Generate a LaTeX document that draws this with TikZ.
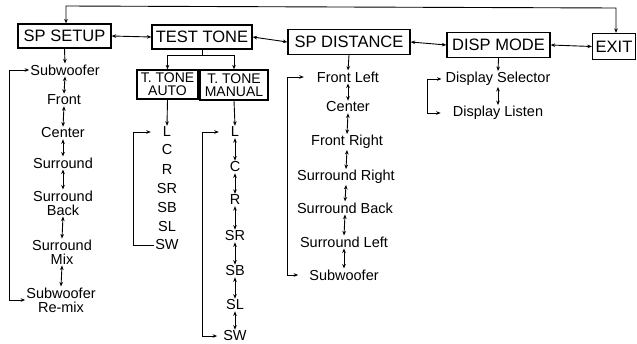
\documentclass[tikz,border=0pt]{standalone}
\usepackage{fontspec}
\setmainfont{Liberation Sans}
\usetikzlibrary{arrows.meta,calc}
\begin{document}
\begin{tikzpicture}[x=1pt,y=-1pt,
  >={Stealth[length=4.5pt,width=3.6pt]},
  conn/.style={line width=0.9pt},
  box/.style={draw, line width=1.3pt, inner sep=0pt, font=\fontsize{16.5}{18}\selectfont},
  sbox/.style={draw, line width=1.3pt, inner sep=0pt, align=center, font=\fontsize{14}{13}\selectfont},
  item/.style={inner sep=1pt, align=center, font=\fontsize{14.5}{14}\selectfont},
]
\useasboundingbox (0,0) rectangle (637,343);

% main boxes
\node[box, minimum width=93pt, minimum height=24pt] (spsetup) at (64.5,36) {SP SETUP};
\node[box, minimum width=100pt, minimum height=24pt] (testtone) at (202,37) {TEST TONE};
\node[box, minimum width=122pt, minimum height=25pt] (spdist) at (349,42) {SP DISTANCE};
\node[box, minimum width=103pt, minimum height=25pt] (dispmode) at (498.5,45) {DISP MODE};
\node[box, minimum width=43pt, minimum height=26pt] (exit) at (614,46.5) {EXIT};

% horizontal links
\draw[conn,<->] (spsetup.east) -- (testtone.west);
\draw[conn,<->] (testtone.east) -- (spdist.west);
\draw[conn,<->] (spdist.east) -- (dispmode.west);
\draw[conn,<->] (dispmode.east) -- (exit.west);

% top loop
\coordinate (t1) at (66,6);
\coordinate (t2) at (616,8);
\draw[conn,<->] (spsetup.north -| t1) -- (t1) -- (t2) -- (exit.north -| t2);

% SP SETUP list
\node[item] (s1) at (65,70) {Subwoofer};
\node[item] (s2) at (64,100) {Front};
\node[item] (s3) at (63,133) {Center};
\node[item] (s4) at (63,163) {Surround};
\node[item] (s5) at (63,203) {Surround\\Back};
\node[item] (s6) at (62,252) {Surround\\Mix};
\node[item] (s7) at (61,300) {Subwoofer\\Re-mix};
\draw[conn,->] (spsetup.south) -- (s1.north);
\draw[conn,<->] (s1.south) -- (s2.north);
\draw[conn,<->] (s2.south) -- (s3.north);
\draw[conn,<->] (s3.south) -- (s4.north);
\draw[conn,<->] (s4.south) -- (s5.north);
\draw[conn,<->] (s5.south) -- (s6.north);
\draw[conn,<->] (s6.south) -- (s7.north);
\coordinate (lx1) at (9,0);
\draw[conn,<->] (s1.west) -- (s1.west -| lx1) -- (s7.west -| lx1) -- (s7.west);

% TEST TONE sub boxes
\node[sbox, minimum width=61pt, minimum height=29pt] (auto) at (167.5,84.5) {T. TONE\\AUTO};
\node[sbox, minimum width=68pt, minimum height=30pt] (manual) at (234,85) {T. TONE\\MANUAL};
\coordinate (tj) at (202,55);
\draw[conn] (testtone.south) -- (testtone.south |- tj);
\draw[conn] (auto.north |- tj) -- (manual.north |- tj);
\draw[conn,->] (auto.north |- tj) -- (auto.north);
\draw[conn,->] (manual.north |- tj) -- (manual.north);

% AUTO list
\node[item] (aL) at (167,132) {L};
\node[item] (aC) at (167,150) {C};
\node[item] (aR) at (167,170) {R};
\node[item] (aSR) at (167,189) {SR};
\node[item] (aSB) at (167,208) {SB};
\node[item] (aSL) at (167,227) {SL};
\node[item] (aSW) at (167,245) {SW};
\draw[conn,->] (auto.south) -- (aL.north);
\coordinate (lx2) at (133,0);
\draw[conn,->] (aSW.west) -- (aSW.west -| lx2) -- (aL.west -| lx2) -- ($(aL.west)+(-11,0)$);

% MANUAL list
\node[item] (mL) at (235,132) {L};
\node[item] (mC) at (235,167) {C};
\node[item] (mR) at (235,200) {R};
\node[item] (mSR) at (235,236) {SR};
\node[item] (mSB) at (235,271) {SB};
\node[item] (mSL) at (235,305) {SL};
\node[item] (mSW) at (235,336) {SW};
\draw[conn,->] (manual.south) -- (mL.north);
\draw[conn,<->] (mL.south) -- (mC.north);
\draw[conn,<->] (mC.south) -- (mR.north);
\draw[conn,<->] (mR.south) -- (mSR.north);
\draw[conn,<->] (mSR.south) -- (mSB.north);
\draw[conn,<->] (mSB.south) -- (mSL.north);
\draw[conn,<->] (mSL.south) -- (mSW.north);
\coordinate (lx3) at (202,0);
\draw[conn,<->] ($(mL.west)+(-11,0)$) -- (mL.west -| lx3) -- (mSW.west -| lx3) -- ($(mSW.west)+(-5,0)$);

% SP DISTANCE list
\node[item] (d1) at (348,77) {Front Left};
\node[item] (d2) at (348,107) {Center};
\node[item] (d3) at (347,142) {Front Right};
\node[item] (d4) at (346,177) {Surround Right};
\node[item] (d5) at (345,208) {Surround Back};
\node[item] (d6) at (344,242) {Surround Left};
\node[item] (d7) at (344,275) {Subwoofer};
\draw[conn,->] (spdist.south) -- (d1.north);
\draw[conn,<->] (d1.south) -- (d2.north);
\draw[conn,<->] (d2.south) -- (d3.north);
\draw[conn,<->] (d3.south) -- (d4.north);
\draw[conn,<->] (d4.south) -- (d5.north);
\draw[conn,<->] (d5.south) -- (d6.north);
\draw[conn,<->] (d6.south) -- (d7.north);
\coordinate (lx4) at (287,0);
\draw[conn,<->] ($(d1.west)+(-12,0)$) -- (d1.west -| lx4) -- (d7.west -| lx4) -- ($(d7.west)+(-10,0)$);

% DISP MODE list
\node[item] (m1) at (498,79) {Display Selector};
\node[item] (m2) at (498,113) {Display Listen};
\draw[conn,->] (dispmode.south) -- (m1.north);
\draw[conn,<->] (m1.south) -- (m2.north);
\coordinate (lx5) at (427,0);
\draw[conn,<->] ($(m1.west)+(-3,0)$) -- (m1.west -| lx5) -- (m2.west -| lx5) -- ($(m2.west)+(-11,0)$);
\end{tikzpicture}
\end{document}
